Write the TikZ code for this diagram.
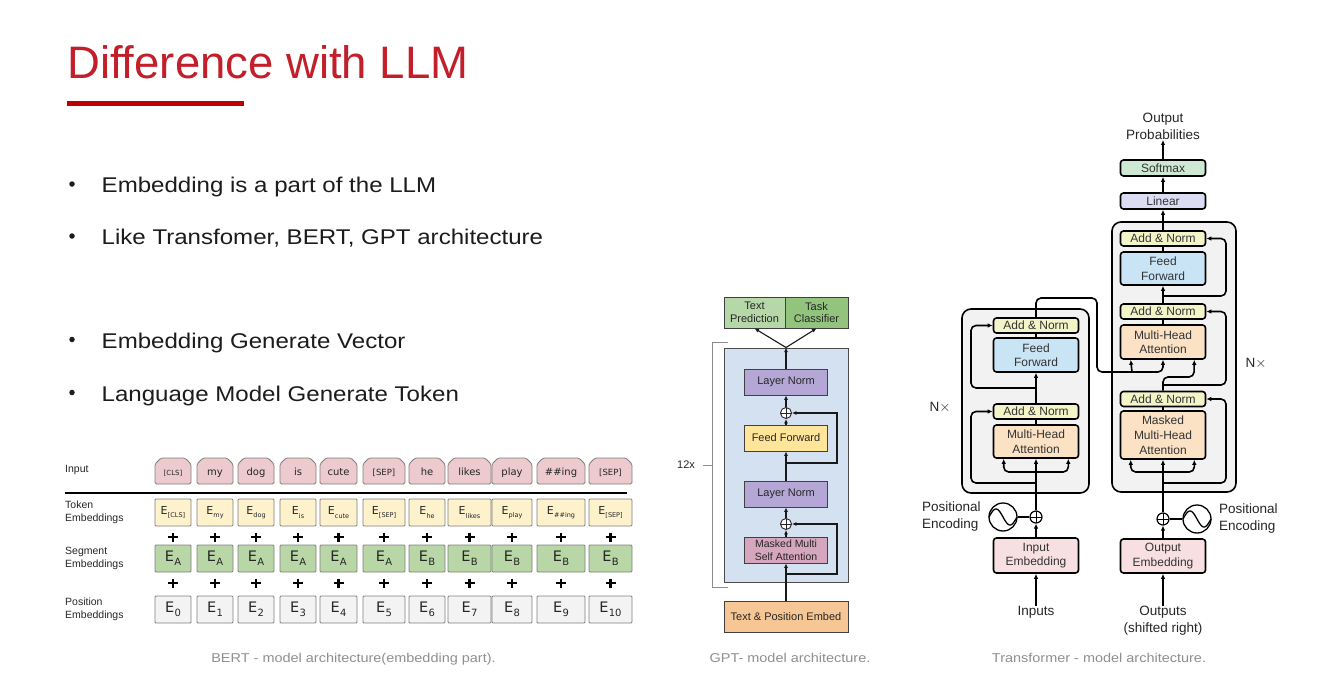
\documentclass[tikz,border=0pt]{standalone}
\usepackage{fontspec}
\setmainfont{Liberation Sans}
\newfontfamily\widesans{Liberation Sans}[FakeStretch=1.13]
\newfontfamily\verdana{DejaVu Sans}
\usetikzlibrary{arrows.meta,calc}

\definecolor{titlered}{HTML}{C21F2B}
\definecolor{rulered}{HTML}{C00000}
\definecolor{bodytext}{HTML}{1C1C1C}
\definecolor{capgray}{HTML}{8F8F8F}
% BERT colours
\definecolor{inpink}{HTML}{ECCACD}
\definecolor{tokyellow}{HTML}{FDF2CC}
\definecolor{seggreen}{HTML}{B9D6A6}
\definecolor{posgray}{HTML}{F3F3F3}
% GPT colours
\definecolor{gptgreenA}{HTML}{B6D7A8}
\definecolor{gptgreenB}{HTML}{93C47D}
\definecolor{gptblue}{HTML}{D4E1F1}
\definecolor{lnpurple}{HTML}{B4A7D6}
\definecolor{ffyellow}{HTML}{FFE599}
\definecolor{mmsapink}{HTML}{D5A6BD}
\definecolor{tpeorange}{HTML}{F6C794}
% Transformer colours
\definecolor{bggray}{HTML}{F2F2F2}
\definecolor{anyellow}{HTML}{F3F5C8}
\definecolor{ffblue}{HTML}{C9E5F5}
\definecolor{mhaorange}{HTML}{FBE2C4}
\definecolor{embpink}{HTML}{F8E0E2}
\definecolor{linlav}{HTML}{DCDDF2}
\definecolor{smgreen}{HTML}{CFE8D3}

% token embedding: small E with subscript
\newcommand\Etok[1]{E\kern0.2pt\raisebox{-0.3em}{\fontsize{6.5}{7}\selectfont #1}}
% segment / position embedding: larger E with subscript
\newcommand\Ebig[1]{{\fontsize{14.5}{15}\selectfont E}\kern0.3pt\raisebox{-0.35em}{\fontsize{10}{11}\selectfont #1}}

\tikzset{
  btext/.style={anchor=base west, inner sep=0pt, text=bodytext,
    font=\widesans\fontsize{21.3}{24}\selectfont},
  bdot/.style={circle, fill=bodytext, inner sep=0pt, minimum size=5.5pt},
  capt/.style={anchor=base, inner sep=0pt, text=capgray,
    font=\widesans\fontsize{12.8}{14}\selectfont},
  % BERT
  blabel/.style={anchor=west, align=left, inner sep=0pt, text=black!85,
    font=\fontsize{10.5}{13}\selectfont},
  bshape/.style={draw=black!50, line width=0.8pt, rounded corners=1.5pt},
  bword/.style={inner sep=0pt, text height=7.5pt, text depth=2.2pt, text=black!85,
    font=\verdana\fontsize{10}{12}\selectfont},
  bbox/.style={draw=black!50, line width=0.8pt, rounded corners=1pt, inner sep=0pt,
    text=black!85, font=\verdana\fontsize{11}{12}\selectfont},
  bplus/.style={line width=2.8pt, black},
  % GPT
  gbox/.style={draw=black!75, line width=0.8pt, minimum width=83pt, minimum height=26pt,
    inner sep=0pt, align=center, text=black!85, font=\fontsize{11}{12.5}\selectfont},
  gplus/.style={circle, draw=black!85, line width=0.9pt, fill=white, minimum size=11pt,
    inner sep=0pt, path picture={
      \draw[line width=0.8pt] (path picture bounding box.north) -- (path picture bounding box.south)
        (path picture bounding box.west) -- (path picture bounding box.east);}},
  garrow/.style={line width=1.1pt, black!90, -{Latex[length=4.5pt,width=4pt]}},
  % Transformer
  tbg/.style={draw, line width=1.6pt, fill=bggray, rounded corners=9pt, inner sep=0pt},
  tbox/.style={draw, line width=1.6pt, rounded corners=3pt, minimum width=85pt, inner sep=0pt,
    align=center, text=black!80, font=\fontsize{12}{14.5}\selectfont},
  tlbl/.style={inner sep=0pt, align=center, text=black!85, font=\fontsize{13.5}{17}\selectfont},
  tline/.style={line width=1.6pt, rounded corners=5pt},
  tarrow/.style={tline, -{Latex[length=5pt,width=4.5pt]}},
  tplus/.style={circle, draw, line width=1.2pt, fill=white, minimum size=12pt, inner sep=0pt,
    path picture={
      \draw[line width=1pt] (path picture bounding box.north) -- (path picture bounding box.south)
        (path picture bounding box.west) -- (path picture bounding box.east);}},
  tpenc/.style={circle, draw, line width=1.3pt, minimum size=28pt, inner sep=0pt},
}

\begin{document}
\begin{tikzpicture}[x=1pt,y=-1pt]
\useasboundingbox (0,0) rectangle (1326,693);
\fill[white] (0,0) rectangle (1326,693);

% ---------------- title and bullet list ----------------
\node[anchor=base west, inner sep=0pt, text=titlered, font=\fontsize{45.5}{50}\selectfont]
  (title) at (67,78) {Difference with LLM};
\node[fill=rulered, minimum width=177pt, minimum height=5pt, inner sep=0pt] (titlerule) at (155.5,103.5) {};

\node[bdot] (d1) at (72,184) {};
\node[btext] (b1) at (101.5,192.5) {Embedding is a part of the LLM};
\node[bdot] (d2) at (72,236) {};
\node[btext] (b2) at (101.5,244.5) {Like Transfomer, BERT, GPT architecture};
\node[bdot] (d3) at (72,339.5) {};
\node[btext] (b3) at (101.5,348) {Embedding Generate Vector};
\node[bdot] (d4) at (72,392.5) {};
\node[btext] (b4) at (101.5,401) {Language Model Generate Token};

% ---------------- BERT embedding layers ----------------
\node[blabel] (lin)  at (65,470)   {Input};
\node[blabel] (ltok) at (65,512.5) {Token\\Embeddings};
\node[blabel] (lseg) at (65,558.5) {Segment\\Embeddings};
\node[blabel] (lpos) at (65,609.5) {Position\\Embeddings};
\draw[line width=1.5pt] (65,493) -- (627,493);

\foreach \bk/\cx/\bw/\word/\tok/\seg/\pos in {
  1/173/36/{\fontsize{7}{8}\selectfont [CLS]}/{[CLS]}/A/0,
  2/215/36/{my}/{my}/A/1,
  3/256/36/{dog}/{dog}/A/2,
  4/298/36/{is}/{is}/A/3,
  5/338.5/37/{cute}/{cute}/A/4,
  6/384/42/{\fontsize{8.5}{9}\selectfont [SEP]}/{[SEP]}/A/5,
  7/427/36/{he}/{he}/B/6,
  8/469.5/43/{likes}/{likes}/B/7,
  9/512/40/{play}/{play}/B/8,
  10/561/48/{\#\#ing}/{\#\#ing}/B/9,
  11/610.5/43/{\fontsize{8.5}{9}\selectfont [SEP]}/{[SEP]}/B/10}{
  % input token tab
  \draw[bshape, fill=inpink] ({\cx-\bw/2},484) -- ({\cx-\bw/2},464) -- ({\cx-\bw/2+6},458)
     -- ({\cx+\bw/2-6},458) -- ({\cx+\bw/2},464) -- ({\cx+\bw/2},484) -- cycle;
  \node[bword] (w\bk) at (\cx,473) {\word};
  % embeddings
  \node[bbox, fill=tokyellow, minimum width=\bw, minimum height=27pt] (t\bk) at (\cx,512.5) {\Etok{\tok}};
  \node[bbox, fill=seggreen, minimum width=\bw, minimum height=27pt] (s\bk) at (\cx,558.5) {\Ebig{\seg}};
  \node[bbox, fill=posgray, minimum width=\bw, minimum height=27pt] (p\bk) at (\cx,609.5) {\Ebig{\pos}};
  % sums between the rows
  \draw[bplus] ({\cx-5},537) -- ({\cx+5},537) (\cx,532.5) -- (\cx,541.5);
  \draw[bplus] ({\cx-5},583) -- ({\cx+5},583) (\cx,578.5) -- (\cx,587.5);
}
\node[capt] (bertcap) at (353.5,662) {BERT - model architecture(embedding part).};

% ---------------- GPT ----------------
\node[gbox, fill=gptgreenA, minimum width=61pt, minimum height=31pt] (tp) at (754.5,312.5) {Text\\Prediction};
\node[gbox, fill=gptgreenB, minimum width=63pt, minimum height=31pt] (tc) at (816.5,312.5) {Task\\Classifier};
\node[draw=black!70, fill=gptblue, line width=0.8pt, minimum width=124pt, minimum height=234pt, inner sep=0pt]
  (gblk) at (786,465) {};
\coordinate (apex) at (786,347.5);
\node[gbox, fill=lnpurple] (ln1) at (786,382) {Layer Norm};
\node[gplus] (gp1) at (786,413) {};
\node[gbox, fill=ffyellow] (gff) at (786,438) {Feed Forward};
\node[gbox, fill=lnpurple] (ln2) at (786,494) {Layer Norm};
\node[gplus] (gp2) at (786,524) {};
\node[gbox, fill=mmsapink, font=\fontsize{10.5}{12.5}\selectfont] (gatt) at (786,550) {Masked Multi\\Self Attention};
\node[gbox, fill=tpeorange, minimum width=124pt, minimum height=31pt] (gemb) at (786,616.5) {Text \& Position Embed};

\draw[garrow] (gemb.north) -- (gatt.south);
\draw[garrow] (gatt.north) -- (gp2.south);
\draw[garrow] (gp2.north) -- (ln2.south);
\draw[garrow] (ln2.north) -- (gff.south);
\draw[garrow] (gff.north) -- (gp1.south);
\draw[garrow] (gp1.north) -- (ln1.south);
\draw[garrow] (ln1.north) -- (apex);
\draw[garrow] (apex) -- (tp.south);
\draw[garrow] (apex) -- (tc.south);
\coordinate (gr1) at (786,463);
\coordinate (gr2) at (786,574);
\draw[garrow] (gr1) -- (837,463) -- (837,413) -- (gp1.east);
\draw[garrow] (gr2) -- (837,574) -- (837,524) -- (gp2.east);

% repeat bracket
\draw[black!45, line width=1pt] (728,342) -- (712,342) -- (712,587) -- (728,587) (703,465) -- (712,465);
\node[inner sep=0pt, font=\fontsize{11}{12}\selectfont, text=black!85] (rep) at (686,465) {12x};
\node[capt] (gptcap) at (790,662) {GPT- model architecture.};

% ---------------- Transformer ----------------
\node[tbg, minimum width=127pt, minimum height=184pt] (encbg) at (1025.5,401) {};
\node[tbg, minimum width=124pt, minimum height=270pt] (decbg) at (1174,357) {};

% encoder stack
\node[tbox, fill=anyellow, minimum height=15pt] (eAN1) at (1036,325.5) {Add \& Norm};
\node[tbox, fill=ffblue, minimum height=34pt] (eFF) at (1036,355) {Feed\\Forward};
\node[tbox, fill=anyellow, minimum height=15pt] (eAN2) at (1036,411.5) {Add \& Norm};
\node[tbox, fill=mhaorange, minimum height=33pt] (eMHA) at (1036,441.5) {Multi-Head\\Attention};
\node[tplus] (eplus) at (1036,517) {};
\node[tpenc] (epe) at (1003,517) {};
\draw[line width=1.3pt, shift={(epe.center)}] plot[domain=-14:14, samples=40, smooth] (\x,{8*sin(\x*180/14)});
\node[tbox, fill=embpink, minimum height=35pt] (eEmb) at (1036,555.5) {Input\\Embedding};
\node[tlbl] (inp) at (1036,612) {Inputs};
\node[tlbl, anchor=west, align=left] (epel) at (922,516.5) {Positional\\Encoding};
\node[tlbl] (enx) at (940,407) {N$\times$};

% decoder stack
\node[tbox, fill=smgreen, minimum height=16pt] (dSoft) at (1163,168) {Softmax};
\node[tbox, fill=linlav, minimum height=16pt] (dLin) at (1163,201) {Linear};
\node[tbox, fill=anyellow, minimum height=15pt] (dAN3) at (1163,238.5) {Add \& Norm};
\node[tbox, fill=ffblue, minimum height=33pt] (dFF) at (1163,268.5) {Feed\\Forward};
\node[tbox, fill=anyellow, minimum height=15pt] (dAN2) at (1163,311.5) {Add \& Norm};
\node[tbox, fill=mhaorange, minimum height=34pt] (dMHA) at (1163,342) {Multi-Head\\Attention};
\node[tbox, fill=anyellow, minimum height=15pt] (dAN1) at (1163,399) {Add \& Norm};
\node[tbox, fill=mhaorange, minimum height=48pt, font=\fontsize{12}{15}\selectfont] (dMMHA) at (1163,435) {Masked\\Multi-Head\\Attention};
\node[tplus] (dplus) at (1163,519) {};
\node[tpenc] (dpe) at (1197,519) {};
\draw[line width=1.3pt, shift={(dpe.center)}] plot[domain=-14:14, samples=40, smooth] (\x,{8*sin(\x*180/14)});
\node[tbox, fill=embpink, minimum height=34pt] (dEmb) at (1163,556) {Output\\Embedding};
\node[tlbl] (outs) at (1163,620.5) {Outputs\\(shifted right)};
\node[tlbl] (oprob) at (1163,126.5) {Output\\Probabilities};
\node[tlbl, anchor=west, align=left] (dpel) at (1219,519) {Positional\\Encoding};
\node[tlbl] (dnx) at (1256,363) {N$\times$};

% encoder connections
\draw[tarrow] (inp.north) -- (eEmb.south);
\draw[tarrow] (eEmb.north) -- (eplus.south);
\draw[tline] (epe.east) -- (eplus.west);
\draw[tarrow] (eplus.north) -- (eMHA.south);
\coordinate (eSplit) at (1036,472);
\draw[tarrow] (eSplit) -| ($(eMHA.south west)+(11,0)$);
\draw[tarrow] (eSplit) -| ($(eMHA.south east)+(-11,0)$);
\coordinate (eRes1) at (1036,483);
\draw[tarrow] (eRes1) -- (971,483) -- (971,411.5) -- (eAN2.west);
\draw[tline] (eMHA.north) -- (eAN2.south);
\draw[tarrow] (eAN2.north) -- (eFF.south);
\coordinate (eRes2) at (1036,388);
\draw[tarrow] (eRes2) -- (971,388) -- (971,325.5) -- (eAN1.west);
\draw[tline] (eFF.north) -- (eAN1.south);
% encoder output into the decoder attention (keys and values)
\draw[tarrow] (eAN1.north) -- (1036,298) -- (1097,298) -- (1097,372) -- (1163,372) -- (dMHA.south);
\coordinate (kvSplit) at (1132,372);
\draw[tarrow] (kvSplit) -- ($(dMHA.south west)+(11,0)$);

% decoder connections
\draw[tarrow] (outs.north) -- (dEmb.south);
\draw[tarrow] (dEmb.north) -- (dplus.south);
\draw[tline] (dplus.east) -- (dpe.west);
\draw[tarrow] (dplus.north) -- (dMMHA.south);
\coordinate (dSplit) at (1163,472);
\draw[tarrow] (dSplit) -| ($(dMMHA.south west)+(11,0)$);
\draw[tarrow] (dSplit) -| ($(dMMHA.south east)+(-12,0)$);
\coordinate (dRes1) at (1163,483);
\draw[tarrow] (dRes1) -- (1226,483) -- (1226,399) -- (dAN1.east);
\draw[tline] (dMMHA.north) -- (dAN1.south);
\draw[tarrow] (dAN1.north) -- (1163,377) -- (1194,377) -- ($(dMHA.south east)+(-12,0)$);
\coordinate (dRes2) at (1163,385);
\draw[tarrow] (dRes2) -- (1226,385) -- (1226,311.5) -- (dAN2.east);
\draw[tline] (dMHA.north) -- (dAN2.south);
\draw[tarrow] (dAN2.north) -- (dFF.south);
\coordinate (dRes3) at (1163,296);
\draw[tarrow] (dRes3) -- (1226,296) -- (1226,238.5) -- (dAN3.east);
\draw[tline] (dFF.north) -- (dAN3.south);
\draw[tarrow] (dAN3.north) -- (dLin.south);
\draw[tarrow] (dLin.north) -- (dSoft.south);
\draw[tarrow] (dSoft.north) -- (oprob.south);

\node[capt] (tfcap) at (1099,662) {Transformer - model architecture.};
\end{tikzpicture}
\end{document}
